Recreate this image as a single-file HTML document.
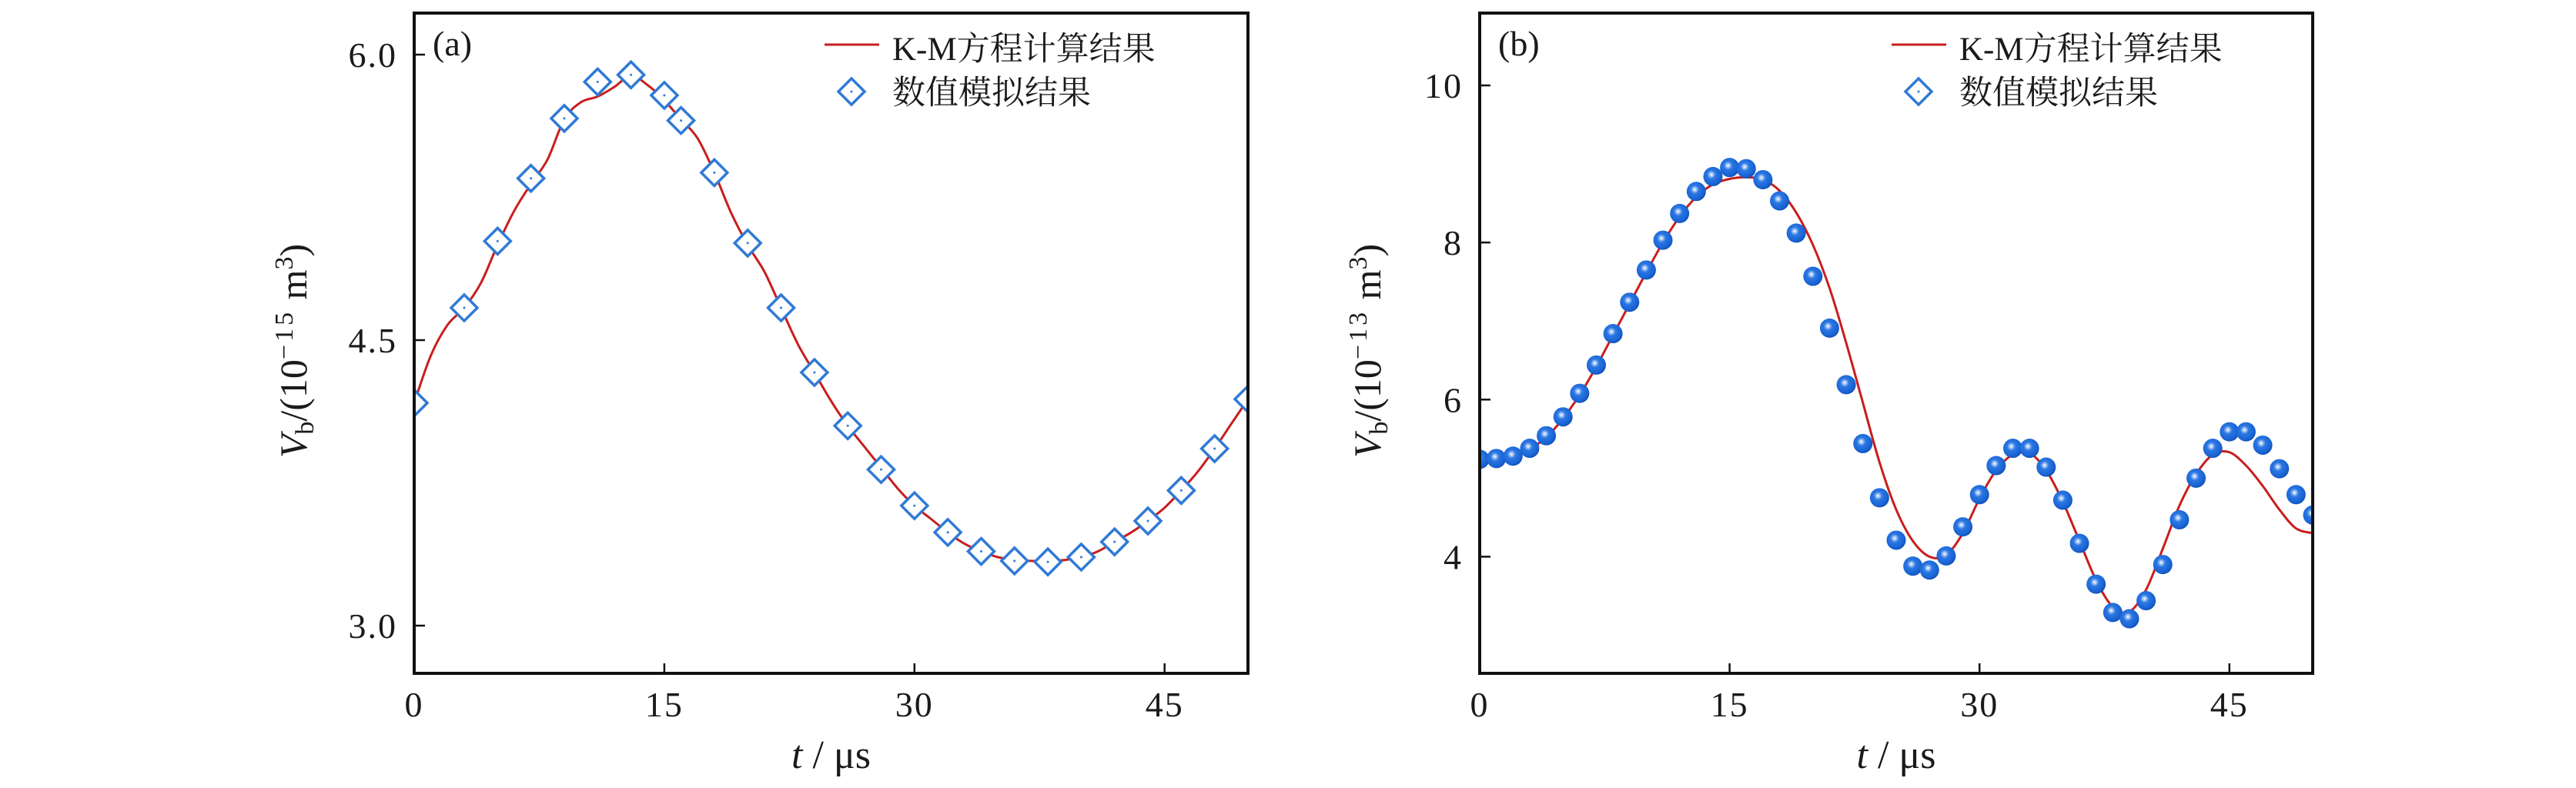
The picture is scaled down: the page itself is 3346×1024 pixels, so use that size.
<!DOCTYPE html>
<html><head><meta charset="utf-8"><style>
html,body{margin:0;padding:0;background:#fff;}
svg{display:block;}
text{font-family:"Liberation Serif","Noto Serif CJK SC",serif;fill:#1a1a1a;}
</style></head><body>
<svg id="fig" width="3346" height="1024" viewBox="0 0 3346 1024" xmlns="http://www.w3.org/2000/svg">
<defs>
<radialGradient id="ball" cx="0.42" cy="0.4" r="0.62">
<stop offset="0" stop-color="#ffffff"/><stop offset="0.14" stop-color="#a8c8f5"/><stop offset="0.35" stop-color="#2b78e4"/><stop offset="0.85" stop-color="#1760d0"/><stop offset="1" stop-color="#0e4cae"/>
</radialGradient>
</defs>
</svg>
<script>
// Panel (a) data
const aLineT=[0,1,2,3,4,5,6,7,8,9,10,11,12,13,14,15,16,17,18,19,20,21,22,23,24,25,26,27,28,29,30,31,32,33,34,35,36,37,38,39,40,41,42,43,44,45,46,47,48,49,50];
const aLineV=[4.17,4.42,4.58,4.67,4.8,5.0,5.18,5.32,5.45,5.66,5.75,5.78,5.83,5.89,5.84,5.76,5.66,5.56,5.38,5.17,5.0,4.86,4.67,4.48,4.33,4.18,4.05,3.94,3.83,3.72,3.63,3.56,3.49,3.43,3.39,3.36,3.345,3.34,3.34,3.345,3.36,3.39,3.44,3.49,3.55,3.62,3.71,3.81,3.93,4.06,4.19];
const aSimT=[0,3,5,7,9,11,13,15,16,18,20,22,24,26,28,30,32,34,36,38,40,42,44,46,48,50];
const aSimV=[4.17,4.67,5.02,5.35,5.665,5.857,5.894,5.786,5.654,5.38,5.01,4.67,4.33,4.05,3.82,3.63,3.49,3.39,3.34,3.335,3.36,3.44,3.55,3.71,3.93,4.19];
const aXTicks=[0,15,30,45];
const aYTicks=["3.0","4.5","6.0"];
// Panel (b) data
const bLineT=[0,1,2,3,4,5,6,7,8,9,10,11,12,13,14,15,16,17,18,19,20,21,22,23,24,25,26,27,28,29,30,31,32,33,34,35,36,37,38,39,40,41,42,43,44,45,46,47,48,49,50];
const bLineV=[5.24,5.25,5.28,5.37,5.52,5.76,6.06,6.42,6.82,7.22,7.62,8.0,8.33,8.58,8.74,8.81,8.83,8.8,8.66,8.38,7.97,7.42,6.72,5.96,5.2,4.6,4.2,4.0,4.02,4.3,4.74,5.1,5.3,5.32,5.1,4.7,4.2,3.7,3.36,3.3,3.58,4.1,4.65,5.05,5.3,5.33,5.16,4.9,4.6,4.36,4.3];
const bSimT=[0,1,2,3,4,5,6,7,8,9,10,11,12,13,14,15,16,17,18,19,20,21,22,23,24,25,26,27,28,29,30,31,32,33,34,35,36,37,38,39,40,41,42,43,44,45,46,47,48,49,50];
const bSimV=[5.24,5.25,5.28,5.38,5.54,5.78,6.08,6.44,6.84,7.24,7.65,8.03,8.37,8.65,8.84,8.955,8.94,8.8,8.53,8.12,7.57,6.91,6.19,5.44,4.75,4.21,3.88,3.83,4.01,4.38,4.79,5.16,5.38,5.38,5.14,4.72,4.17,3.65,3.29,3.21,3.44,3.9,4.47,5.0,5.38,5.59,5.59,5.42,5.12,4.79,4.53];
const bXTicks=[0,15,30,45];
const bYTicks=["4","6","8","10"];

const NS="http://www.w3.org/2000/svg";
const svg=document.getElementById('fig');
function mk(tag,attrs,parent){const e=document.createElementNS(NS,tag);for(const k in attrs)e.setAttribute(k,attrs[k]);(parent||svg).appendChild(e);return e;}
function smooth(pts){let d="M"+pts[0][0]+","+pts[0][1];for(let i=0;i<pts.length-1;i++){const p0=pts[Math.max(0,i-1)],p1=pts[i],p2=pts[i+1],p3=pts[Math.min(pts.length-1,i+2)];const c1=[p1[0]+(p2[0]-p0[0])/6,p1[1]+(p2[1]-p0[1])/6],c2=[p2[0]-(p3[0]-p1[0])/6,p2[1]-(p3[1]-p1[1])/6];d+=" C"+c1[0].toFixed(1)+","+c1[1].toFixed(1)+" "+c2[0].toFixed(1)+","+c2[1].toFixed(1)+" "+p2[0].toFixed(1)+","+p2[1].toFixed(1);}return d;}

function panel(cfg){
  const g=mk('g',{});
  
  
  const X=t=>cfg.x0+(t-0)/50*(cfg.x1-cfg.x0);
  const Y=v=>cfg.yA+(v-cfg.vA)/(cfg.vB-cfg.vA)*(cfg.yB-cfg.yA);
  const clip=mk('clipPath',{id:cfg.name+'-clip'},g);
  mk('rect',{x:cfg.x0,y:cfg.top,width:cfg.x1-cfg.x0,height:cfg.bot-cfg.top},clip);
  const pts=cfg.lt.map((t,i)=>[X(t),Y(cfg.lv[i])]);
  const line=mk('path',{d:smooth(pts),fill:'none',stroke:'#c81e1e','stroke-width':3,'clip-path':'url(#'+cfg.name+'-clip)'},g);
  
  
  const mg=mk('g',{'clip-path':'url(#'+cfg.name+'-clip)'},g);
  cfg.st.forEach((t,i)=>{
    const cx=X(t),cy=Y(cfg.sv[i]);
    let m;
    if(cfg.diamond){
      m=mk('g',{},mg);
      mk('path',{d:`M${cx},${cy-17} L${cx+17},${cy} L${cx},${cy+17} L${cx-17},${cy} Z`,fill:'#fff',stroke:'#2f7ad6','stroke-width':3.5},m);
      mk('circle',{cx:cx,cy:cy,r:1.5,fill:'#2f7ad6'},m);
    } else {
      m=mk('circle',{cx:cx,cy:cy,r:12.5,fill:'url(#ball)'},mg);
    }
    
    
  });
  const fr=mk('rect',{x:cfg.x0,y:cfg.top,width:cfg.x1-cfg.x0,height:cfg.bot-cfg.top,fill:'none',stroke:'#111','stroke-width':4},g);
  
  
  cfg.xt.forEach(t=>{
    const x=X(t);
    mk('line',{x1:x,y1:cfg.bot,x2:x,y2:cfg.bot-13,stroke:'#111','stroke-width':2.5},g);
    const tx=mk('text',{x:x,y:931,'text-anchor':'middle','font-size':46,'letter-spacing':2},g);tx.textContent=t;
    
    
  });
  cfg.yt.forEach(s=>{
    const y=Y(parseFloat(s));
    mk('line',{x1:cfg.x0,y1:y,x2:cfg.x0+14,y2:y,stroke:'#111','stroke-width':2.5},g);
    const ty=mk('text',{x:cfg.x0-22,y:y+16,'text-anchor':'end','font-size':46,'letter-spacing':2},g);ty.textContent=s;
    
    
  });
  const pl=mk('text',{x:cfg.x0+24,y:72,'font-size':46},g);pl.textContent=cfg.label;
  
  
  const lx=cfg.legX;
  const l1=mk('line',{x1:lx,y1:58,x2:lx+71,y2:58,stroke:'#c81e1e','stroke-width':3},g);
  
  
  const t1=mk('text',{x:lx+88,y:78,'font-size':43},g);t1.textContent='K-M方程计算结果';
  
  
  const mx=lx+35,my=119;
  const d=mk('path',{d:`M${mx},${my-17} L${mx+17},${my} L${mx},${my+17} L${mx-17},${my} Z`,fill:'#fff',stroke:'#2f7ad6','stroke-width':3.5},g);
  
  
  mk('circle',{cx:mx,cy:my,r:1.5,fill:'#2f7ad6'},g);
  const t2=mk('text',{x:lx+88,y:135,'font-size':43},g);t2.textContent='数值模拟结果';
  
  
  const xl=mk('text',{x:(cfg.x0+cfg.x1)/2,y:998,'text-anchor':'middle','font-size':52},g);
  xl.innerHTML='<tspan font-style="italic">t</tspan> / μs';
  
  
  const yl=mk('text',{x:0,y:0,'text-anchor':'middle','font-size':50,transform:`translate(${cfg.yLabX},${cfg.yLabY}) rotate(-90)`},g);
  yl.innerHTML='<tspan font-style="italic">V</tspan><tspan font-size="34" dy="9">b</tspan><tspan dy="-9">/(10</tspan><tspan font-size="34" dy="-18" letter-spacing="4">−'+cfg.exp+'</tspan><tspan dy="18">  m</tspan><tspan font-size="34" dy="-18">3</tspan><tspan dy="18">)</tspan>';
  
  
}
panel({name:'panel-a',x0:538,x1:1621,top:17,bot:875,yA:71,vA:6.0,yB:813,vB:3.0,lt:aLineT,lv:aLineV,st:aSimT,sv:aSimV,diamond:true,xt:aXTicks,yt:aYTicks,label:'(a)',legX:1071,yLabX:398,yLabY:456,exp:'15'});
panel({name:'panel-b',x0:1922,x1:3004,top:17,bot:875,yA:111,vA:10,yB:723.4,vB:4,lt:bLineT,lv:bLineV,st:bSimT,sv:bSimV,diamond:false,xt:bXTicks,yt:bYTicks,label:'(b)',legX:2457,yLabX:1793,yLabY:456,exp:'13'});
</script>
</body></html>
